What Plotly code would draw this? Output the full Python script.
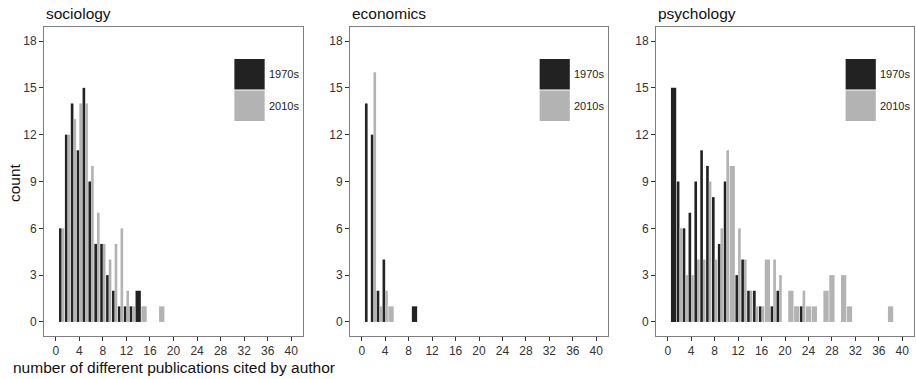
import plotly.graph_objects as go

# ---- data ----
panels = ["sociology", "economics", "psychology"]
series_names = ["1970s", "2010s"]

soc_1970_x = [1, 2, 3, 4, 5, 6, 7, 8, 9, 10, 11, 12, 13, 14]
soc_1970_y = [6, 12, 14, 11, 15, 9, 5, 5, 3, 2, 1, 1, 1, 2]
soc_2010_x = [1, 2, 3, 4, 5, 6, 7, 8, 9, 10, 11, 12, 13, 15, 18]
soc_2010_y = [6, 12, 13, 14, 14, 10, 7, 5, 4, 5, 6, 2, 1, 1, 1]

eco_1970_x = [1, 2, 3, 4, 9]
eco_1970_y = [14, 12, 2, 4, 1]
eco_2010_x = [1, 2, 3, 4, 5]
eco_2010_y = [0, 16, 1, 2, 1]

psy_1970_x = [1, 2, 3, 4, 5, 6, 7, 8, 9, 10, 12, 13, 14, 15, 16, 18, 19, 23]
psy_1970_y = [15, 9, 6, 7, 9, 11, 10, 8, 5, 9, 3, 4, 2, 2, 1, 1, 2, 1]
psy_2010_x = [2, 3, 4, 5, 6, 7, 8, 9, 10, 11, 12, 13, 14, 15, 16, 17, 18, 19,
              21, 22, 23, 24, 25, 27, 28, 30, 31, 38]
psy_2010_y = [6, 3, 3, 4, 4, 9, 4, 6, 11, 10, 6, 4, 2, 1, 1, 4, 4, 3,
              2, 1, 2, 1, 1, 2, 3, 3, 1, 1]

x_ticks = [0, 4, 8, 12, 16, 20, 24, 28, 32, 36, 40]
y_ticks = [0, 3, 6, 9, 12, 15, 18]

data = [
    ((soc_1970_x, soc_1970_y), (soc_2010_x, soc_2010_y)),
    ((eco_1970_x, eco_1970_y), (eco_2010_x, eco_2010_y)),
    ((psy_1970_x, psy_1970_y), (psy_2010_x, psy_2010_y)),
]

# ---- style ----
W, H = 916, 379
FONT = "Liberation Sans, Arial, Helvetica, sans-serif"
colors = ["#222222", "#b3b3b3"]
border = "#7f7f7f"

panel_px = [(44, 303), (350, 608), (656, 914)]
top_px, bot_px = 27, 336
dodge = 0.9

fig = go.Figure()
layout = dict(
    width=W, height=H, margin=dict(l=0, r=0, t=0, b=0),
    paper_bgcolor="white", plot_bgcolor="white",
    barmode="overlay", showlegend=False,
    font=dict(family=FONT, size=12, color="#333333"),
)
shapes, annotations = [], []

for i, (name, (s1, s2)) in enumerate(zip(panels, data)):
    k = "" if i == 0 else str(i + 1)
    xs = [s1[0], s2[0]]
    for j, (sx, sy) in enumerate((s1, s2)):
        other = set(xs[1 - j])
        widths, offsets = [], []
        for xv in sx:
            if xv in other:
                widths.append(dodge / 2)
                offsets.append(-dodge / 2 if j == 0 else 0.0)
            else:
                widths.append(dodge)
                offsets.append(-dodge / 2)
        fig.add_trace(go.Bar(
            x=sx, y=sy, name=series_names[j], width=widths, offset=offsets,
            marker=dict(color=colors[j], line=dict(width=0)),
            xaxis="x" + k, yaxis="y" + k,
        ))
    x0, x1 = panel_px[i]
    layout["xaxis" + k] = dict(
        domain=[x0 / W, x1 / W], range=[-2, 42], anchor="y" + k,
        tickvals=x_ticks, ticks="outside", ticklen=4, tickcolor="#333333",
        showline=True, mirror=True, linecolor=border, linewidth=1,
        showgrid=False, zeroline=False, tickfont=dict(size=12, color="#333333"),
    )
    layout["yaxis" + k] = dict(
        domain=[1 - bot_px / H, 1 - top_px / H], range=[-0.9, 18.9], anchor="x" + k,
        tickvals=y_ticks, ticks="outside", ticklen=4, tickcolor="#333333",
        showline=True, mirror=True, linecolor=border, linewidth=1,
        showgrid=False, zeroline=False, tickfont=dict(size=12, color="#333333"),
    )
    # panel title
    annotations.append(dict(
        text=name, xref="x%s domain" % k, yref="paper", x=0, y=1 - 13.5 / H,
        xanchor="left", yanchor="middle", showarrow=False,
        font=dict(size=15.5, color="#111111"),
    ))
    # legend keys
    kx0, kx1 = 0.735, 0.852
    ph = bot_px - top_px
    boxes = [(59, 89.5), (90.5, 121)]
    for j, (b0, b1) in enumerate(boxes):
        shapes.append(dict(
            type="rect", xref="x%s domain" % k, yref="y%s domain" % k,
            x0=kx0, x1=kx1, y0=1 - (b1 - top_px) / ph, y1=1 - (b0 - top_px) / ph,
            fillcolor=colors[j], line=dict(width=0), layer="above",
        ))
        annotations.append(dict(
            text=series_names[j], xref="x%s domain" % k, yref="y%s domain" % k,
            x=kx1 + 0.008, y=1 - ((b0 + b1) / 2 - top_px) / ph,
            xanchor="left", yanchor="middle", showarrow=False,
            font=dict(size=11, color="#222222"),
        ))

# axis titles
annotations.append(dict(
    text="number of different publications cited by author", xref="paper", yref="paper",
    x=(panel_px[0][0] + panel_px[0][1]) / 2 / W, y=1 - 367 / H,
    xanchor="center", yanchor="middle", showarrow=False,
    font=dict(size=15.5, color="#111111"),
))
annotations.append(dict(
    text="count", xref="paper", yref="paper", x=14 / W, y=1 - 183 / H,
    xanchor="center", yanchor="middle", showarrow=False, textangle=-90,
    font=dict(size=15.5, color="#111111"),
))

layout["shapes"] = shapes
layout["annotations"] = annotations
fig.update_layout(**layout)
fig.write_html(
    "out.html",
    config={"displayModeBar": False, "staticPlot": True},
    post_script="document.body.style.margin='0';document.body.style.overflow='hidden';",
)
